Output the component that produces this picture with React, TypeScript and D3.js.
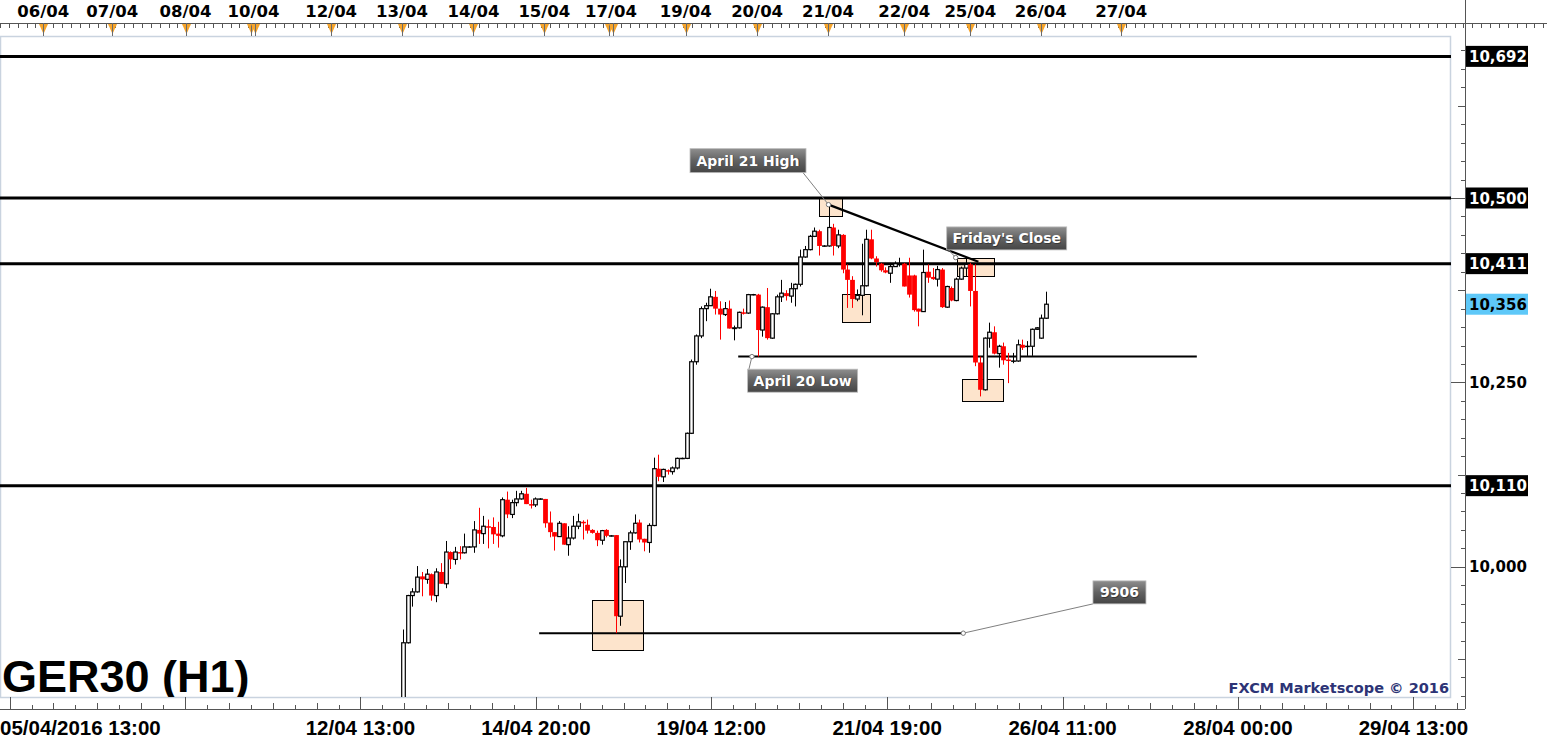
import React, { useEffect } from 'react';
import * as d3 from 'd3';

// ---- OHLC (hourly bars, index 0 = first bar on 13/04) ----
const opens = [
  9760, 9897, 9961, 9966, 9987, 9983, 9990, 9961, 9993, 9977,
  10020, 10010, 10020, 10019, 10027, 10027, 10050, 10045, 10055, 10054,
  10045, 10042, 10091, 10071, 10087, 10092, 10099, 10085, 10084, 10092,
  10092, 10060, 10047, 10041, 10059, 10030, 10039, 10055, 10061, 10057,
  10050, 10046, 10036, 10050, 10042, 10043, 9933, 10000, 10034, 10046,
  10060, 10038, 10033, 10056, 10133, 10122, 10131, 10129, 10134, 10147,
  10147, 10181, 10278, 10313, 10350, 10354, 10366, 10350, 10342, 10350,
  10323, 10324, 10345, 10344, 10369, 10369, 10321, 10352, 10310, 10343,
  10366, 10371, 10367, 10377, 10383, 10420, 10430, 10448, 10455, 10435,
  10435, 10460, 10435, 10450, 10403, 10389, 10363, 10368, 10381, 10444,
  10418, 10411, 10402, 10398, 10407, 10410, 10411, 10395, 10395, 10350,
  10346, 10400, 10393, 10390, 10403, 10352, 10378, 10361, 10390, 10405,
  10410, 10374, 10277, 10240, 10310, 10318, 10289, 10299, 10281, 10279,
  10279, 10301, 10299, 10299, 10322, 10310, 10337,
];
const highs = [
  9915, 9962, 9971, 10001, 9993, 9997, 9991, 9998, 10005, 10035,
  10021, 10027, 10028, 10045, 10028, 10062, 10080, 10069, 10064, 10067,
  10061, 10094, 10102, 10091, 10103, 10103, 10107, 10091, 10094, 10093,
  10092, 10075, 10047, 10062, 10059, 10055, 10069, 10072, 10063, 10064,
  10051, 10049, 10050, 10051, 10043, 10043, 10010, 10034, 10049, 10071,
  10064, 10038, 10059, 10148, 10152, 10133, 10132, 10136, 10148, 10148,
  10182, 10281, 10315, 10353, 10358, 10377, 10374, 10360, 10359, 10361,
  10327, 10346, 10350, 10370, 10370, 10370, 10353, 10378, 10344, 10369,
  10389, 10375, 10385, 10384, 10430, 10435, 10450, 10460, 10457, 10436,
  10491, 10465, 10457, 10451, 10410, 10394, 10376, 10438, 10457, 10457,
  10421, 10412, 10406, 10412, 10414, 10419, 10412, 10419, 10396, 10350,
  10430, 10410, 10405, 10408, 10405, 10381, 10380, 10392, 10407, 10419,
  10412, 10410, 10285, 10311, 10331, 10326, 10301, 10304, 10290, 10290,
  10308, 10308, 10306, 10323, 10325, 10342, 10373,
];
const lows = [
  9755, 9896, 9946, 9965, 9960, 9977, 9954, 9952, 9977, 9971,
  9997, 10003, 10010, 10018, 10026, 10019, 10031, 10031, 10025, 10031,
  10026, 10040, 10066, 10066, 10082, 10091, 10085, 10079, 10081, 10091,
  10053, 10040, 10022, 10041, 10030, 10015, 10037, 10051, 10037, 10045,
  10045, 10028, 10030, 10040, 10041, 9910, 9920, 9978, 10023, 10045,
  10033, 10021, 10019, 10055, 10116, 10115, 10125, 10125, 10132, 10146,
  10146, 10180, 10274, 10310, 10333, 10354, 10342, 10308, 10340, 10323,
  10307, 10323, 10342, 10343, 10368, 10285, 10312, 10308, 10309, 10342,
  10359, 10361, 10358, 10353, 10380, 10419, 10429, 10447, 10422, 10434,
  10434, 10422, 10432, 10398, 10351, 10351, 10360, 10341, 10380, 10417,
  10407, 10400, 10398, 10385, 10407, 10407, 10380, 10365, 10346, 10326,
  10346, 10385, 10389, 10380, 10351, 10351, 10360, 10360, 10389, 10394,
  10353, 10272, 10231, 10239, 10297, 10288, 10270, 10274, 10249, 10276,
  10278, 10294, 10286, 10286, 10321, 10309, 10336,
];
const closes = [
  9897, 9961, 9966, 9986, 9983, 9990, 9961, 9993, 9977, 10020,
  10010, 10020, 10019, 10027, 10027, 10050, 10045, 10055, 10053, 10044,
  10042, 10091, 10071, 10087, 10092, 10099, 10085, 10084, 10092, 10092,
  10059, 10047, 10041, 10059, 10030, 10039, 10055, 10061, 10059, 10049,
  10046, 10036, 10049, 10042, 10042, 9933, 10000, 10034, 10046, 10059,
  10037, 10033, 10056, 10133, 10122, 10132, 10129, 10134, 10147, 10147,
  10181, 10278, 10313, 10350, 10354, 10366, 10350, 10342, 10350, 10323,
  10324, 10345, 10344, 10369, 10369, 10321, 10352, 10310, 10343, 10366,
  10371, 10367, 10377, 10383, 10420, 10430, 10448, 10455, 10435, 10435,
  10460, 10435, 10450, 10403, 10389, 10363, 10368, 10381, 10444, 10418,
  10413, 10402, 10399, 10407, 10411, 10411, 10380, 10369, 10348, 10346,
  10399, 10392, 10390, 10403, 10352, 10380, 10361, 10390, 10405, 10410,
  10374, 10277, 10240, 10310, 10318, 10289, 10299, 10280, 10279, 10279,
  10301, 10297, 10299, 10322, 10324, 10337, 10356,
];

// ---- Axis labels (positions in bar-index units) ----
const dayLabels = ['06/04', '07/04', '08/04', '10/04', '12/04', '13/04', '14/04', '15/04', '17/04', '19/04', '20/04', '21/04', '22/04', '25/04', '26/04', '27/04'];
const dayLabelPos = [-76.1, -61.5, -46.0, -31.6, -15.2, -0.2, 14.9, 29.9, 44.0, 59.8, 74.9, 89.9, 106.0, 120.0, 134.9, 151.9];
const dayMarkerPos = [-76.1, -61.5, -46.0, -32.1, -31.2, -15.2, -0.2, 14.9, 29.9, 43.6, 44.4, 59.8, 74.9, 89.9, 106.0, 120.0, 134.9, 151.9];

const timeLabels = ['05/04/2016 13:00', '', '12/04 13:00', '14/04 20:00', '19/04 12:00', '21/04 19:00', '26/04 11:00', '28/04 00:00', '29/04 13:00'];
const timeTickPos = [-83.2, -46.1, -9.0, 28.1, 65.2, 102.4, 139.5, 176.6, 213.7];

// ---- Levels & annotations ----
const levels = [10692, 10500, 10411, 10110];
const lastPrice = 10356;
const april20Low = { from: 70.9, to: 167.9, price: 10285 };
const low9906 = { from: 28.8, to: 118.5, price: 9910 };
const trend = { i1: 90, p1: 10491, i2: 121.7, p2: 10413.6 };
const boxes = [
  { i1: 88.0, i2: 92.8, p1: 10501.8, p2: 10475.6 },
  { i1: 117.1, i2: 124.9, p1: 10418.2, p2: 10393.3 },
  { i1: 92.9, i2: 98.9, p1: 10369.8, p2: 10331.9 },
  { i1: 118.2, i2: 126.8, p1: 10254.2, p2: 10223.8 },
  { i1: 40.0, i2: 50.8, p1: 9954.6, p2: 9886.8 },
];
const notes = [
  { text: 'April 21 High', i: 90, p: 10491, dx: -138.5, dy: -56, w: 116, h: 24, cx: 113, cy: 24 },
  { text: "Friday's Close", i: 116.9, p: 10419.2, dx: -9, dy: -30.7, w: 120, h: 23, cx: 1, cy: 22 },
  { text: 'April 20 Low', i: 73.8, p: 10285, dx: -4.3, dy: 12.6, w: 110, h: 23, cx: 1.3, cy: 0 },
  { text: '9906', i: 118.5, p: 9910, dx: 129.7, dy: -52.3, w: 53, h: 23, cx: 0, cy: 23 },
];

const fmt = d3.format(',');

export default function App() {
  useEffect(() => {
    document.body.style.margin = '0';
  }, []);

  const W = 1547;
  const H = 742;
  const plot = { left: 0, top: 36, right: 1451, bottom: 697 };
  const axisX = 1465;
  const topAxisY = 23;
  const botAxisY = 709;

  const x = d3.scaleLinear().domain([0, 136]).range([403, 1046]);
  const y = d3.scaleLinear().domain([10000, 10500]).range([566.8, 198]);
  const bw = 3.6;

  const idxLeft = x.invert(0);
  const idxRight = x.invert(W);

  const topTicks: number[] = [];
  for (let v = idxLeft; v <= idxRight; v += 1.876) topTicks.push(v);

  const step = (timeTickPos[1] - timeTickPos[0]) / 8;
  const botMinor: { v: number; k: number }[] = [];
  for (let j = 0; j < timeTickPos.length; j++) {
    for (let k = 1; k < 8; k++) {
      const v = timeTickPos[j] + k * step;
      if (x(v) < axisX) botMinor.push({ v, k });
    }
  }

  const priceTicks = d3.range(9825, 10725, 25).filter((p) => y(p) >= plot.top && y(p) <= plot.bottom);
  const majorPrices = priceTicks.filter((p) => p % 250 === 0);
  const boxedLevels = levels;

  const px = (v: number) => Math.round(v) + 0.5;

  return (
    <svg width={W} height={H} style={{ position: 'absolute', left: 0, top: 0, background: '#fff' }}
      xmlns="http://www.w3.org/2000/svg">
      <defs>
        <linearGradient id="lbl" x1="0" y1="0" x2="0" y2="1">
          <stop offset="0" stopColor="#8e8e8e" />
          <stop offset="0.5" stopColor="#626262" />
          <stop offset="1" stopColor="#454545" />
        </linearGradient>
        <clipPath id="plotClip">
          <rect x={plot.left} y={plot.top} width={plot.right - plot.left} height={plot.bottom - plot.top} />
        </clipPath>
      </defs>
      <rect x={0} y={0} width={W} height={H} fill="#fff" />

      <rect x={plot.left + 0.5} y={plot.top + 0.5} width={plot.right - plot.left - 1} height={plot.bottom - plot.top}
        fill="none" stroke="#c9d3df" strokeWidth={1.5} />

      {/* top axis */}
      <line x1={0} x2={W} y1={topAxisY + 0.5} y2={topAxisY + 0.5} stroke="#555" strokeWidth={1} />
      {topTicks.map((v, i) => (
        <line key={'tt' + i} x1={px(x(v))} x2={px(x(v))} y1={topAxisY} y2={topAxisY + 5} stroke="#555" strokeWidth={1} />
      ))}
      {dayMarkerPos.map((v, i) => {
        const cx = px(x(v));
        return (
          <g key={'dm' + i}>
            <path d={`M${cx - 4.5},${topAxisY + 1} L${cx + 4.5},${topAxisY + 1} L${cx},${topAxisY + 11} Z`} fill="#f7a52b" />
            <line x1={cx} x2={cx} y1={topAxisY} y2={plot.top} stroke="#6b6b6b" strokeWidth={1} />
          </g>
        );
      })}
      {dayLabels.map((t, i) => (
        <text key={'dl' + i} x={x(dayLabelPos[i])} y={17} textAnchor="middle"
          fontFamily="DejaVu Sans, Verdana, sans-serif" fontWeight="bold" fontSize={16.5} fill="#000">{t}</text>
      ))}

      {/* bottom axis */}
      <line x1={0} x2={axisX} y1={botAxisY + 0.5} y2={botAxisY + 0.5} stroke="#555" strokeWidth={1} />
      {timeTickPos.map((v, i) => (
        <line key={'bt' + i} x1={px(x(v))} x2={px(x(v))} y1={plot.bottom} y2={botAxisY} stroke="#555" strokeWidth={1} />
      ))}
      {botMinor.map((m, i) => (
        <line key={'bm' + i} x1={px(x(m.v))} x2={px(x(m.v))} y1={botAxisY - (m.k % 2 === 0 ? 6 : 4)} y2={botAxisY} stroke="#555" strokeWidth={1} />
      ))}
      {timeLabels.map((t, i) => t ? (
        <text key={'bl' + i} x={i === 0 ? 0 : x(timeTickPos[i])} y={735} textAnchor={i === 0 ? 'start' : 'middle'}
          fontFamily="Liberation Sans, Arial, sans-serif" fontWeight="bold" fontSize={20.5} fill="#000">{t}</text>
      ) : null)}

      {/* right axis */}
      <line x1={axisX + 0.5} x2={axisX + 0.5} y1={0} y2={botAxisY} stroke="#555" strokeWidth={1} />
      {priceTicks.map((p) => {
        const len = p % 250 === 0 ? axisX - plot.right : p % 125 === 0 ? 7 : 4;
        return <line key={'pt' + p} x1={axisX - len} x2={axisX} y1={px(y(p))} y2={px(y(p))} stroke="#555" strokeWidth={1} />;
      })}
      {majorPrices.filter((p) => !boxedLevels.includes(p)).map((p) => (
        <text key={'pl' + p} x={axisX + 4} y={y(p) + 5.5} fontFamily="DejaVu Sans, Verdana, sans-serif" fontWeight="bold" fontSize={15} fill="#000">{fmt(p)}</text>
      ))}
      {boxedLevels.map((p) => (
        <g key={'bx' + p}>
          <rect x={axisX + 1} y={y(p) - 10.5} width={62} height={21} fill="#000" />
          <text x={axisX + 4} y={y(p) + 5.5} fontFamily="DejaVu Sans, Verdana, sans-serif" fontWeight="bold" fontSize={15} fill="#fff">{fmt(p)}</text>
        </g>
      ))}
      <rect x={axisX + 1} y={y(lastPrice) - 10.5} width={62} height={21} fill="#5ec8f8" />
      <text x={axisX + 4} y={y(lastPrice) + 5.5} fontFamily="DejaVu Sans, Verdana, sans-serif" fontWeight="bold" fontSize={15} fill="#000">{fmt(lastPrice)}</text>

      {/* plot content */}
      <g clipPath="url(#plotClip)">
        {boxes.map((b, i) => (
          <rect key={'hb' + i} x={px(x(b.i1))} y={px(y(b.p1))} width={Math.round(x(b.i2) - x(b.i1))} height={Math.round(y(b.p2) - y(b.p1))}
            fill="#fde4cc" stroke="#000" strokeWidth={1} />
        ))}
        {levels.map((p) => (
          <line key={'lv' + p} x1={plot.left} x2={plot.right} y1={y(p)} y2={y(p)} stroke="#000" strokeWidth={3} />
        ))}
        <line x1={x(april20Low.from)} x2={x(april20Low.to)} y1={y(april20Low.price)} y2={y(april20Low.price)} stroke="#000" strokeWidth={2} />
        <line x1={x(low9906.from)} x2={x(low9906.to)} y1={y(low9906.price)} y2={y(low9906.price)} stroke="#000" strokeWidth={2} />

        {opens.map((o, i) => {
          const c = closes[i];
          const up = c >= o;
          const cx = px(x(i));
          const color = up ? '#000' : '#ff0000';
          const top = y(Math.max(o, c));
          const bot = y(Math.min(o, c));
          return (
            <g key={'c' + i}>
              <line x1={cx} x2={cx} y1={y(highs[i])} y2={y(lows[i])} stroke={color} strokeWidth={1} />
              {up ? (
                <rect x={cx - bw / 2} y={top} width={bw} height={Math.max(bot - top, 0.3)} fill="#fff" stroke="#000" strokeWidth={1.2} />
              ) : (
                <rect x={cx - bw / 2 - 0.6} y={top} width={bw + 1.2} height={Math.max(bot - top, 1.5)} fill="#ff0000" />
              )}
            </g>
          );
        })}

        <line x1={x(trend.i1)} y1={y(trend.p1)} x2={x(trend.i2)} y2={y(trend.p2)} stroke="#000" strokeWidth={2.2} />

        {notes.map((n, i) => {
          const ax = x(n.i);
          const ay = y(n.p);
          const bx = ax + n.dx;
          const by = ay + n.dy;
          return (
            <g key={'n' + i}>
              <line x1={bx + n.cx} y1={by + n.cy} x2={ax} y2={ay} stroke="#808080" strokeWidth={1} />
              <circle cx={ax} cy={ay} r={2.2} fill="#fff" stroke="#777" strokeWidth={1} />
              <rect x={bx} y={by} width={n.w} height={n.h} fill="url(#lbl)" stroke="#bdbdbd" strokeWidth={0.8} />
              <text x={bx + n.w / 2 + 0.8} y={by + n.h / 2 + 5.8} textAnchor="middle" fontFamily="DejaVu Sans, Verdana, sans-serif"
                fontWeight="bold" fontSize={14} fill="#222" opacity={0.6}>{n.text}</text>
              <text x={bx + n.w / 2} y={by + n.h / 2 + 5} textAnchor="middle" fontFamily="DejaVu Sans, Verdana, sans-serif"
                fontWeight="bold" fontSize={14} fill="#fff">{n.text}</text>
            </g>
          );
        })}

        <text x={2} y={692} fontFamily="Liberation Sans, Arial, sans-serif" fontWeight="bold" fontSize={45} fill="#000">GER30 (H1)</text>
        <text x={plot.right - 2} y={693} textAnchor="end" fontFamily="DejaVu Sans, Verdana, sans-serif" fontWeight="bold" fontSize={14.5} fill="#2d3476">FXCM Marketscope © 2016</text>
      </g>
    </svg>
  );
}
